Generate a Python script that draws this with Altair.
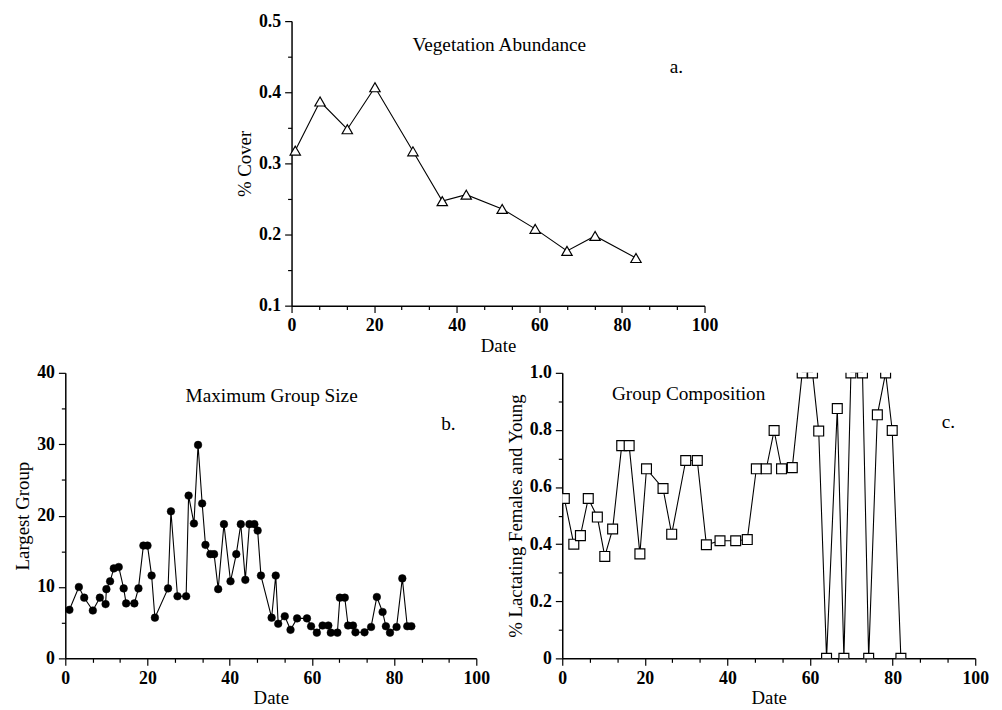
import altair as alt
import pandas as pd

# ---------------- data ----------------
dates_a = [0.9, 6.9, 13.5, 20.2, 29.4, 36.5, 42.3, 51.0, 59.0, 66.7, 73.5, 83.4]
cover_a = [0.318, 0.387, 0.348, 0.407, 0.317, 0.247, 0.256, 0.236, 0.208, 0.177, 0.198, 0.167]

dates_b = [1.0, 3.3, 4.6, 6.7, 8.4, 9.8, 10.0, 10.9, 11.8, 13.0, 14.2, 14.8, 16.8, 17.8, 19.0,
           20.0, 21.0, 21.8, 25.0, 25.7, 27.3, 29.4, 30.0, 31.3, 32.3, 33.3, 34.1, 35.3, 36.2,
           37.2, 38.6, 40.2, 41.6, 42.7, 43.8, 44.8, 46.0, 46.8, 47.6, 50.2, 51.2, 51.8, 53.4,
           54.8, 56.4, 58.8, 59.8, 61.2, 62.6, 64.0, 64.6, 66.2, 66.8, 68.0, 68.8, 70.0, 70.6,
           72.8, 74.4, 75.8, 77.2, 78.0, 79.0, 80.6, 82.0, 83.2, 84.2]
group_b = [6.8, 10.0, 8.5, 6.7, 8.5, 7.6, 9.7, 10.8, 12.6, 12.8, 9.8, 7.7, 7.7, 9.8, 15.8,
           15.8, 11.6, 5.7, 9.8, 20.6, 8.7, 8.7, 22.8, 18.9, 29.9, 21.7, 15.9, 14.6, 14.6,
           9.7, 18.8, 10.8, 14.6, 18.8, 11.0, 18.8, 18.8, 17.9, 11.6, 5.7, 11.6, 4.85, 5.9,
           4.0, 5.6, 5.6, 4.5, 3.6, 4.6, 4.6, 3.6, 3.6, 8.5, 8.5, 4.6, 4.6, 3.65,
           3.65, 4.4, 8.6, 6.5, 4.5, 3.6, 4.4, 11.2, 4.5, 4.5]

dates_c = [0.5, 2.8, 4.4, 6.3, 8.5, 10.3, 12.2, 14.4, 16.2, 18.8, 20.4, 24.4, 26.5, 29.9, 32.7,
           34.9, 38.2, 42.0, 44.8, 47.0, 49.4, 51.3, 53.1, 55.7, 58.1, 60.6, 62.1, 64.0, 66.6,
           68.2, 69.9, 72.7, 74.2, 76.3, 78.3, 79.9, 82.0]
comp_c = [0.56, 0.40, 0.43, 0.56, 0.495, 0.357, 0.453, 0.745, 0.745, 0.366, 0.664, 0.595, 0.435,
          0.693, 0.693, 0.398, 0.412, 0.412, 0.416, 0.664, 0.664, 0.798, 0.664, 0.668, 1.0,
          1.0, 0.796, 0.0, 0.875, 0.0, 1.0, 1.0, 0.0, 0.853, 1.0, 0.798, 0.0]

# annotations (text, x, y in data units)
notes_a = (["Vegetation Abundance", "a."], [50.3, 93.2], [0.467, 0.435])
notes_b = (["Maximum Group Size", "b."], [50.2, 93.2], [36.8, 32.8])
notes_c = (["Group Composition", "c."], [30.6, 93.5], [0.926, 0.826])

x_ticks = [round(i * 20 / 3, 4) for i in range(16)]
ya_ticks = [round(0.1 + 0.05 * i, 2) for i in range(9)]
yb_ticks = [5 * i for i in range(9)]
yc_ticks = [round(0.1 * i, 1) for i in range(11)]

FONT = "Liberation Serif"
H = 289


def major_size(test, big=7, small=4):
    return {"condition": {"test": test, "value": big}, "value": small}


x_test = "abs(datum.value/20 - round(datum.value/20)) < 0.001"


def x_axis():
    return alt.Axis(values=x_ticks, tickCount=200, title="Date", labelOverlap=False,
                    labelFlush=False, titlePadding=2,
                    labelExpr=f"{x_test} ? format(datum.value, 'd') : ''",
                    tickSize=major_size(x_test))


def annot(notes, xdom, ydom):
    df = pd.DataFrame({"t": notes[0], "x": notes[1], "y": notes[2]})
    return alt.Chart(df).mark_text(font=FONT, fontSize=19.5, color="black", align="center",
                                   baseline="middle").encode(
        x=alt.X("x:Q", scale=alt.Scale(domain=xdom, nice=False)),
        y=alt.Y("y:Q", scale=alt.Scale(domain=ydom, nice=False)),
        text="t:N")


# ---------------- panel a ----------------
df_a = pd.DataFrame({"date": dates_a, "cover": cover_a})
ya_test = "abs(datum.value*10 - round(datum.value*10)) < 0.001"
xs_a = alt.X("date:Q", scale=alt.Scale(domain=[0, 100], nice=False), axis=x_axis())
ys_a = alt.Y("cover:Q", scale=alt.Scale(domain=[0.1, 0.5], nice=False),
             axis=alt.Axis(values=ya_ticks, tickCount=200, title="% Cover", labelOverlap=False,
                           labelFlush=False,
                           labelExpr=f"{ya_test} ? format(datum.value, '.1f') : ''",
                           tickSize=major_size(ya_test)))
base_a = alt.Chart(df_a).encode(x=xs_a, y=ys_a)
panel_a = alt.layer(
    base_a.mark_line(color="black", strokeWidth=1.1),
    base_a.mark_point(shape="triangle-up", size=110, filled=True, fill="white",
                      stroke="black", strokeWidth=1.2, opacity=1),
    annot(notes_a, [0, 100], [0.1, 0.5]),
).properties(width=418, height=288)

# ---------------- panel b ----------------
df_b = pd.DataFrame({"date": dates_b, "group": group_b})
yb_test = "datum.value % 10 == 0"
xs_b = alt.X("date:Q", scale=alt.Scale(domain=[0, 100], nice=False), axis=x_axis())
ys_b = alt.Y("group:Q", scale=alt.Scale(domain=[0, 40], nice=False),
             axis=alt.Axis(values=yb_ticks, tickCount=200, title="Largest Group",
                           labelOverlap=False, labelFlush=False,
                           labelExpr=f"{yb_test} ? format(datum.value, 'd') : ''",
                           tickSize=major_size(yb_test)))
base_b = alt.Chart(df_b).encode(x=xs_b, y=ys_b)
panel_b = alt.layer(
    base_b.mark_line(color="black", strokeWidth=1.1),
    base_b.mark_point(shape="circle", size=60, filled=True, fill="black",
                      stroke="black", strokeWidth=0.5, opacity=1),
    annot(notes_b, [0, 100], [0, 40]),
).properties(width=416, height=H)

# ---------------- panel c ----------------
df_c = pd.DataFrame({"date": dates_c, "comp": comp_c})
yc_test = "abs(datum.value*5 - round(datum.value*5)) < 0.001"
xs_c = alt.X("date:Q", scale=alt.Scale(domain=[0, 100], nice=False), axis=x_axis())
ys_c = alt.Y("comp:Q", scale=alt.Scale(domain=[0, 1], nice=False),
             axis=alt.Axis(values=yc_ticks, tickCount=200, title="% Lactating Females and Young",
                           labelOverlap=False, labelFlush=False,
                           labelExpr=f"{yc_test} ? (datum.value == 0 ? '0' : format(datum.value, '.1f')) : ''",
                           tickSize=major_size(yc_test)))
base_c = alt.Chart(df_c).encode(x=xs_c, y=ys_c)
panel_c = alt.layer(
    base_c.mark_line(color="black", strokeWidth=1.1, clip=True),
    base_c.mark_point(shape="square", size=100, filled=True, fill="white",
                      stroke="black", strokeWidth=1.2, opacity=1, clip=True),
    annot(notes_c, [0, 100], [0, 1]),
).properties(width=418, height=H)

# ---------------- layout ----------------
spacer = alt.Chart(pd.DataFrame({"s": [0]})).mark_point(opacity=0).encode(
    x=alt.X("s:Q", axis=None), y=alt.Y("s:Q", axis=None)
).properties(width=229, height=288)

top = alt.hconcat(spacer, panel_a, spacing=0, bounds="flush")
bottom = alt.hconcat(panel_b, panel_c, spacing=87, bounds="flush")

chart = alt.vconcat(top, bottom, spacing=9).properties(
    padding={"left": 6, "top": 0, "right": 5, "bottom": 0},
    background="white",
).configure_view(stroke=None).configure_axis(
    grid=False,
    domainColor="black", domainWidth=1.5,
    tickColor="black", tickWidth=1.2,
    labelColor="black", labelFont=FONT, labelFontSize=18, labelFontWeight="bold",
    labelPadding=4,
    titleColor="black", titleFont=FONT, titleFontSize=19, titleFontWeight="normal",
    titlePadding=4,
)

chart.save("out.html", embed_options={"renderer": "svg", "actions": False})
